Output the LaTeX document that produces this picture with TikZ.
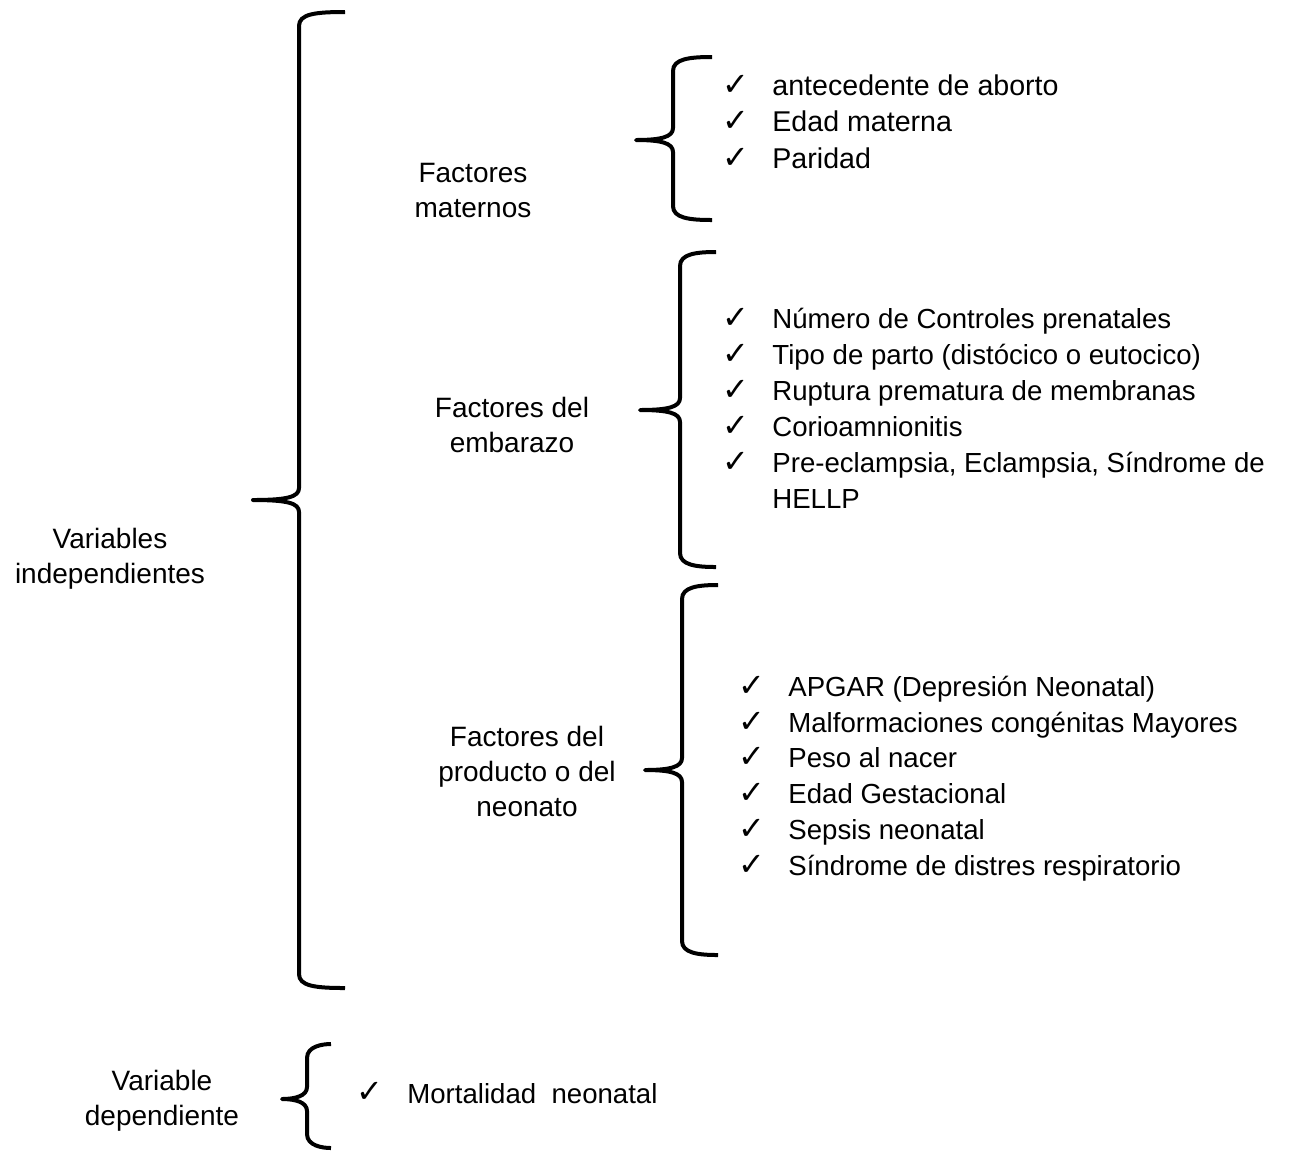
\documentclass[tikz,border=0pt]{standalone}
\usepackage{fontspec}
\setmainfont{Liberation Sans}
\newfontfamily\symfont{DejaVu Sans}
\newcommand\drawbrace[6]{% x, top, mid, bot, tipx, endx
  \draw[bracestyle] (#6,#2) .. controls (#1+16,#2) and (#1,#2+2) .. (#1,#2+14)
    -- (#1,#3-12) .. controls (#1,#3-3) and (#1-12,#3) .. (#5,#3)
    .. controls (#1-12,#3) and (#1,#3+3) .. (#1,#3+12)
    -- (#1,#4-14) .. controls (#1,#4-2) and (#1+16,#4) .. (#6,#4);}
\begin{document}
\begin{tikzpicture}[x=0.5pt,y=-0.5pt,
  bracestyle/.style={line width=2pt,line cap=butt,line join=round},
  lab/.style={align=center,inner sep=0pt,font=\fontsize{14}{17.5}\selectfont},
  item/.style={anchor=base west,inner sep=0pt,font=\fontsize{13.8}{17}\selectfont},
  itemA/.style={item,font=\fontsize{14.3}{17}\selectfont},
  chk/.style={anchor=base,inner sep=0pt,font=\symfont\fontsize{16}{18}\selectfont}]
\useasboundingbox (0,0) rectangle (1305,1153);
% braces
\drawbrace{299}{12}{500}{988}{253}{345}
\drawbrace{673}{57}{140}{220}{636}{712}
\drawbrace{680}{252}{410}{567}{640}{716}
\drawbrace{682}{585}{770}{955}{645}{718}
\drawbrace{307}{1044}{1099}{1148}{282}{331}
% labels
\node[lab] (vi) at (110,559) {Variables\\independientes};
\node[lab] (fm) at (473,190) {Factores\\maternos};
\node[lab] (fe) at (512,425) {Factores del\\embarazo};
\node[lab] (fp) at (527,771) {Factores del\\producto o del\\neonato};
\node[lab] (vd) at (162,1101) {Variable\\dependiente};
% list 1
\node[chk] (c11) at (736,95) {✓}; \node[itemA] (t11) at (772,95) {antecedente de aborto};
\node[chk] (c12) at (736,131) {✓}; \node[itemA] (t12) at (772,131) {Edad materna};
\node[chk] (c13) at (736,168) {✓}; \node[itemA] (t13) at (772,168) {Paridad};
% list 2
\node[chk] (c21) at (736,328) {✓}; \node[item] (t21) at (772,328) {Número de Controles prenatales};
\node[chk] (c22) at (736,364) {✓}; \node[item] (t22) at (772,364) {Tipo de parto (distócico o eutocico)};
\node[chk] (c23) at (736,400) {✓}; \node[item] (t23) at (772,400) {Ruptura prematura de membranas};
\node[chk] (c24) at (736,436) {✓}; \node[item] (t24) at (772,436) {Corioamnionitis};
\node[chk] (c25) at (736,472) {✓}; \node[item] (t25) at (772,472) {Pre-eclampsia, Eclampsia, Síndrome de};
\node[item] (t26) at (772,508) {HELLP};
% list 3
\node[chk] (c31) at (752,696) {✓}; \node[item] (t31) at (788,696) {APGAR (Depresión Neonatal)};
\node[chk] (c32) at (752,732) {✓}; \node[item] (t32) at (788,732) {Malformaciones congénitas Mayores};
\node[chk] (c33) at (752,767) {✓}; \node[item] (t33) at (788,767) {Peso al nacer};
\node[chk] (c34) at (752,803) {✓}; \node[item] (t34) at (788,803) {Edad Gestacional};
\node[chk] (c35) at (752,839) {✓}; \node[item] (t35) at (788,839) {Sepsis neonatal};
\node[chk] (c36) at (752,875) {✓}; \node[item] (t36) at (788,875) {Síndrome de distres respiratorio};
% dependent
\node[chk] (c41) at (370,1102) {✓}; \node[item] (t41) at (407,1103) {Mortalidad\ \ neonatal};
\end{tikzpicture}
\end{document}
